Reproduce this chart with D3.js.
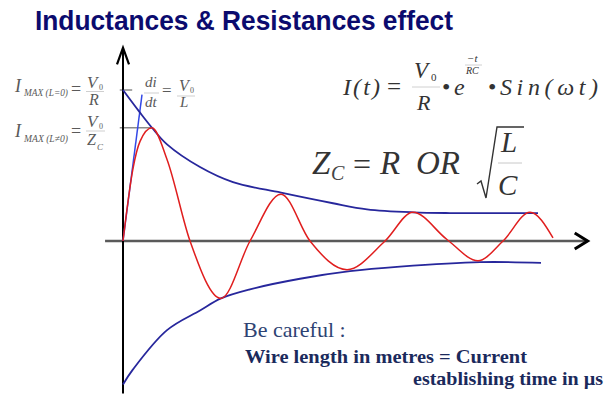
<!DOCTYPE html>
<meta charset="utf-8">
<title>Inductances & Resistances effect</title>
<style>
  body { margin: 0; background: #fff; }
  .serif { font-family: "Liberation Serif", Tinos, "Nimbus Roman", "Times New Roman", "DejaVu Serif", serif; font-style: italic; }
  .env { fill: none; stroke: #27279c; stroke-width: 1.8px; }
  .wave { fill: none; stroke: #e01e1e; stroke-width: 1.5px; }
</style>
<body>
<script src="https://d3js.org/d3.v7.min.js"></script>
<script>
// time (arbitrary units, 0..100) and current (V0/R = 1)
var waveT = [0, 2.17, 3.70, 6.30, 9.57, 14.57, 21.30, 27.61, 34.35, 40.65, 48.70, 56.96,
             63.04, 70.43, 77.17, 82.61, 88.48, 93.48];
var waveI = [0, 0.48, 0.66, 0.75, 0.54, 0, -0.38, 0, 0.31, 0, -0.19, 0,
             0.19, 0.01, -0.13, 0, 0.19, 0.02];

var upperT = [0, 3.70, 6.30, 9.57, 16.74, 23.91, 34.35, 45.65, 53.04, 63.04, 71.09, 90.22];
var upperI = [1.00, 0.85, 0.75, 0.64, 0.49, 0.39, 0.32, 0.25, 0.21, 0.19, 0.185, 0.185];

var lowerT = [0, 2.17, 9.57, 16.74, 21.30, 27.61, 38.48, 49.35, 60.22, 77.61, 90.87];
var lowerI = [-0.95, -0.85, -0.59, -0.46, -0.38, -0.32, -0.25, -0.20, -0.17, -0.14, -0.145];

// initial slope di/dt = V0/L
var tangentT = [0, 4.13];
var tangentI = [0, 0.97];

// guide levels: I max (L=0) and I max (L!=0)
var guideI = [1.0, 0.75];
var guideEndT = [2.0, 6.3];

var W = 605, H = 396;
var serifFont = "'Liberation Serif', Tinos, 'Nimbus Roman', 'Times New Roman', 'DejaVu Serif', serif";
var svg = d3.select("body").append("svg")
    .attr("width", W)
    .attr("height", H);

var x = d3.scaleLinear().domain([0, 100]).range([123, 583]);
var y = d3.scaleLinear().domain([0, 1]).range([241, 90]);

function pts(ts, is) { return ts.map(function(t, k) { return [t, is[k]]; }); }

var envLine = d3.line()
    .curve(d3.curveCatmullRom.alpha(0.5))
    .x(function(d) { return x(d[0]); })
    .y(function(d) { return y(d[1]); });

var waveLine = d3.line()
    .curve(d3.curveMonotoneX)
    .x(function(d) { return x(d[0]); })
    .y(function(d) { return y(d[1]); });

// guide ticks (grey)
svg.selectAll(".guide")
    .data(guideI)
    .enter().append("line")
    .attr("class", "guide")
    .attr("x1", x(-0.7))
    .attr("x2", function(d, k) { return x(guideEndT[k]); })
    .attr("y1", function(d) { return y(d); })
    .attr("y2", function(d) { return y(d); })
    .attr("stroke", "#8a8a8a")
    .attr("stroke-width", 1.5);

// x axis
svg.append("line")
    .attr("x1", x(-3.9)).attr("x2", x(101))
    .attr("y1", y(0)).attr("y2", y(0))
    .attr("stroke", "#5a5a5a").attr("stroke-width", 2.5);
svg.append("path")
    .attr("d", "M" + x(98.2) + "," + (y(0) - 8) + "L" + x(101) + "," + y(0) + "L" + x(98.2) + "," + (y(0) + 8))
    .attr("fill", "none").attr("stroke", "#000").attr("stroke-width", 3).attr("stroke-linejoin", "miter");

// y axis
svg.append("line")
    .attr("x1", x(0)).attr("x2", x(0))
    .attr("y1", y(1.28)).attr("y2", y(-1.01))
    .attr("stroke", "#000").attr("stroke-width", 2);
svg.append("path")
    .attr("d", "M" + (x(0) - 6) + "," + y(1.17) + "L" + x(0) + "," + y(1.28) + "L" + (x(0) + 6) + "," + y(1.17))
    .attr("fill", "none").attr("stroke", "#000").attr("stroke-width", 2.2);

// tangent
svg.append("path")
    .datum(pts(tangentT, tangentI))
    .attr("d", d3.line().x(function(d) { return x(d[0]); }).y(function(d) { return y(d[1]); }))
    .attr("fill", "none").attr("stroke", "#3348e6").attr("stroke-width", 1.5);

// envelopes
svg.append("path").datum(pts(upperT, upperI)).attr("class", "env").attr("d", envLine);
svg.append("path").datum(pts(lowerT, lowerI)).attr("class", "env").attr("d", envLine);

// damped oscillation
svg.append("path").datum(pts(waveT, waveI)).attr("class", "wave").attr("d", waveLine);

// title
svg.append("text")
    .attr("x", 35).attr("y", 30)
    .attr("textLength", 418).attr("lengthAdjust", "spacingAndGlyphs")
    .style("font-family", "'Liberation Sans', Arial, sans-serif")
    .style("font-weight", "bold").style("font-size", "28px")
    .attr("fill", "#0b0b6e")
    .text("Inductances & Resistances effect");

// helper for formula pieces
function t(str, px, py, size, color, opts) {
    opts = opts || {};
    var el = svg.append("text")
        .attr("class", "serif")
        .attr("x", px).attr("y", py)
        .style("font-size", size + "px")
        .attr("fill", color)
        .text(str);
    if (opts.upright) el.style("font-style", "normal");
    if (opts.len) el.attr("textLength", opts.len).attr("lengthAdjust", opts.adj || "spacing");
    return el;
}
function bar(x1, x2, yy, color) {
    svg.append("line").attr("x1", x1).attr("x2", x2).attr("y1", yy).attr("y2", yy)
        .attr("stroke", color).attr("stroke-width", 1);
}

var g1 = "#5a5a5a";
// I MAX (L=0) = V0 / R
t("I", 15, 92, 18, g1);
t("MAX (L=0)", 24, 96, 10, g1, {len: 44, adj: "spacingAndGlyphs"});
t("=", 71, 95, 18, g1, {upright: true});
t("V", 87, 88, 17, g1);
t("0", 99, 90, 8, g1, {upright: true});
bar(86, 104, 91.5, "#cfcfcf");
t("R", 89, 105, 16, g1);

// I MAX (L!=0) = V0 / Zc
t("I", 15, 137, 18, g1);
t("MAX (L\u22600)", 24, 142, 10, g1, {len: 44, adj: "spacingAndGlyphs"});
t("=", 71, 137, 18, g1, {upright: true});
t("V", 87, 127, 17, g1);
t("0", 99, 129, 8, g1, {upright: true});
bar(86, 105, 131, "#cfcfcf");
t("Z", 87, 145, 16, g1);
t("C", 97, 150, 9, g1);

// di/dt = V0/L
t("di", 145, 87, 15, g1);
bar(144, 159, 93, "#cfcfcf");
t("dt", 145, 107, 15, g1);
t("=", 162, 96, 17, g1, {upright: true});
t("V", 179, 91, 16, g1);
t("0", 190, 93, 8, g1, {upright: true});
bar(177, 195, 96, "#cfcfcf");
t("L", 180, 107, 15, g1);

// I(t) = V0/R . e^(-t/RC) . Sin(wt)
var g2 = "#333";
t("I(t)", 343, 95, 24, g2, {len: 37});
t("=", 387, 95, 25, g2, {upright: true});
t("V", 414, 78, 23, g2);
t("0", 431, 81, 11, g2, {upright: true});
bar(412, 440, 87, "#d0d0d0");
t("R", 417, 110, 22, g2);
t("\u2022", 442, 95, 24, g2, {upright: true});
t("e", 454, 95, 24, g2);
t("\u2212t", 467, 62, 11, g2);
bar(465, 482, 65, "#d0d0d0");
t("RC", 466, 74, 10, g2);
t("\u2022", 488, 95, 24, g2, {upright: true});
t("Sin(\u03c9t)", 500, 95, 24, g2, {len: 98});

// Zc = R OR sqrt(L/C)
t("Z", 312, 174, 33, g2);
t("C", 331, 180, 20, "#444");
t("=", 353, 175, 32, g2, {upright: true});
t("R", 380, 174, 33, g2);
t("OR", 416, 174, 33, g2);
svg.append("path")
    .attr("d", "M477,184 L481,181 L486,198 L497,127 L524,127")
    .attr("fill", "none").attr("stroke", "#333").attr("stroke-width", 1.4);
t("L", 501, 152, 29, g2);
bar(498, 522, 163, "#c8c8c8");
t("C", 498, 195, 29, g2);

// footnote
svg.append("text")
    .attr("x", 243).attr("y", 337)
    .style("font-family", serifFont)
    .style("font-size", "22px")
    .attr("fill", "#2e4373")
    .text("Be careful :");
svg.append("text")
    .attr("x", 245).attr("y", 363)
    .attr("textLength", 282).attr("lengthAdjust", "spacingAndGlyphs")
    .style("font-family", serifFont)
    .style("font-size", "19px").style("font-weight", "bold")
    .attr("fill", "#1b2a5c")
    .text("Wire length in metres = Current");
svg.append("text")
    .attr("x", 413).attr("y", 385)
    .attr("textLength", 190).attr("lengthAdjust", "spacingAndGlyphs")
    .style("font-family", serifFont)
    .style("font-size", "19px").style("font-weight", "bold")
    .attr("fill", "#1b2a5c")
    .text("establishing time in \u00b5s");
</script>
</body>
